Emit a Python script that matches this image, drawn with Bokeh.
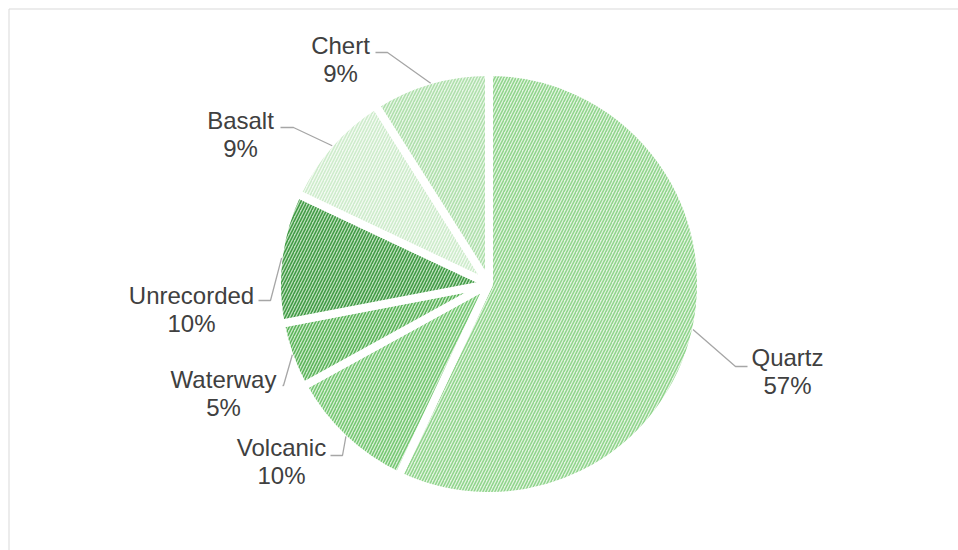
import math
from bokeh.plotting import figure
from bokeh.models import Range1d
from bokeh.embed import file_html
from bokeh.resources import INLINE
from bokeh.core.properties import value

# ---- data ----
categories = ["Quartz", "Volcanic", "Waterway", "Unrecorded", "Basalt", "Chert"]
shares = [57, 10, 5, 10, 9, 9]
pct_labels = ["57%", "10%", "5%", "10%", "9%", "9%"]

# ---- styles ----
fill_colors = ["#E2F4E0", "#D8EFD6", "#CBE9CA", "#BCDEBB", "#F3FAF2", "#E8F6E7"]
hatch_colors = ["#8FD48B", "#74C771", "#5AB358", "#3F9A43", "#CDECCB", "#AEDFAB"]

# ---- layout (pixel coords, y measured from top) ----
W, H = 958, 550
CX, CY, R = 488.5, 283.5, 212
label_pos = [(787, 371), (281, 461), (223, 393), (191, 309), (240, 134), (340, 59)]
leader_elbow = [(735, 366), (342, 455), (283, 385), (270, 300), (293, 127), (387, 52)]
leader_end = [(747, 366), (330, 455), (282, 385), (258, 300), (280, 127), (375, 52)]


def Y(py):
    return H - py


p = figure(width=W, height=H, output_backend="svg", toolbar_location=None,
           x_range=Range1d(0, W), y_range=Range1d(0, H), min_border=0,
           background_fill_color="white", border_fill_color="white")
p.axis.visible = False
p.grid.visible = False
p.outline_line_color = None

# chart area border
p.line([8.5, 8.5, W + 5], [Y(H + 5), Y(8.5), Y(8.5)], line_color="#D9D9D9", line_width=1)

total = float(sum(shares))
cum = 0.0
for i, s in enumerate(shares):
    a0 = cum / total
    a1 = (cum + s) / total
    cum += s
    start = math.pi / 2 - a0 * 2 * math.pi
    end = math.pi / 2 - a1 * 2 * math.pi
    p.wedge(x=[CX], y=[Y(CY)], radius=R, start_angle=[start], end_angle=[end],
            direction="clock", fill_color=fill_colors[i],
            hatch_pattern="/", hatch_color=hatch_colors[i], hatch_scale=6,
            hatch_weight=1.5, line_color="white", line_width=8)

    # leader line from slice mid angle
    mid = (a0 + a1) / 2 * 2 * math.pi
    sx = CX + (R - 3) * math.sin(mid)
    sy = CY - (R - 3) * math.cos(mid)
    ex, ey = leader_elbow[i]
    fx, fy = leader_end[i]
    p.line([sx, ex, fx], [Y(sy), Y(ey), Y(fy)], line_color="#A6A6A6", line_width=1.3)

    lx, ly = label_pos[i]
    p.text(x=[lx], y=[Y(ly)], text=[categories[i] + "\n" + pct_labels[i]],
           text_font=value("Liberation Sans"), text_font_size="24px",
           text_color="#404040", text_align="center", text_baseline="middle",
           text_line_height=1.05)

open("out.html", "w").write(file_html(p, INLINE))
